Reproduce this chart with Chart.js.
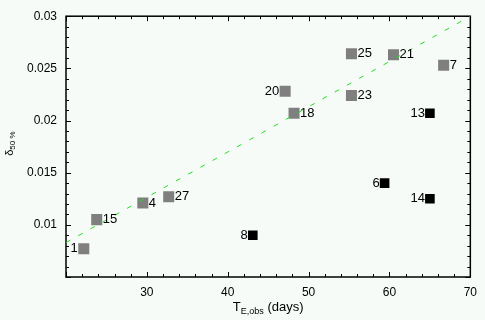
<!DOCTYPE html>
<html>
<head>
<meta charset="utf-8">
<script src="https://cdn.jsdelivr.net/npm/chart.js@4"></script>
<style>
  html, body { margin:0; padding:0; background:#f6fbf7; }
  #wrap { width:485px; height:320px; }
</style>
</head>
<body>
<div id="wrap"><canvas id="myChart" width="485" height="320"></canvas></div>
<script>
// grey points (label, T_E,obs, delta50%)
const greyLabels = ['1','15','4','27','20','18','23','25','21','7'];
const greyX = [22.2, 23.8, 29.5, 32.7, 47.1, 48.2, 55.3, 55.3, 60.5, 66.7];
const greyY = [0.0077, 0.0105, 0.0121, 0.0127, 0.0228, 0.0207, 0.0224, 0.0264, 0.0263, 0.0253];
const greySide = ['L','R','R','R','L','R','R','R','R','R'];

// black points
const blackLabels = ['8','6','14','13'];
const blackX = [43.1, 59.4, 65.0, 65.0];
const blackY = [0.0090, 0.0140, 0.0125, 0.0207];

// fitted line
const fitX = [20, 70];
const fitY = [0.0083, 0.030];

const xTicks = [30, 40, 50, 60, 70];
const yTicks = [0.01, 0.015, 0.02, 0.025, 0.03];

const FONT = '"Liberation Sans", Arial, sans-serif';

function pts(xs, ys){ return xs.map((x,i)=>({x:x, y:ys[i]})); }

const decor = {
  id:'decor',
  beforeDatasetsDraw(chart){
    const ctx = chart.ctx, a = chart.chartArea;
    const xs = chart.scales.x, ys = chart.scales.y;
    ctx.save();
    ctx.strokeStyle = '#000';
    ctx.lineWidth = 1.5;
    ctx.strokeRect(a.left, a.top, a.right-a.left, a.bottom-a.top);
    ctx.lineWidth = 1;
    ctx.beginPath();
    for (let v = 20; v <= 70.001; v += 2) {
      const px = Math.round(xs.getPixelForValue(v)) + 0.5;
      const len = (Math.abs(v % 10) < 0.01) ? 5 : 3;
      ctx.moveTo(px, a.bottom); ctx.lineTo(px, a.bottom - len);
      ctx.moveTo(px, a.top); ctx.lineTo(px, a.top + len);
    }
    for (let k = 5; k <= 30; k++) {
      const py = Math.round(ys.getPixelForValue(k/1000)) + 0.5;
      const len = (k % 5 === 0) ? 5 : 3;
      ctx.moveTo(a.left, py); ctx.lineTo(a.left + len, py);
      ctx.moveTo(a.right, py); ctx.lineTo(a.right - len, py);
    }
    ctx.stroke();
    ctx.restore();
  },
  afterDatasetsDraw(chart){
    const ctx = chart.ctx;
    const xs = chart.scales.x, ys = chart.scales.y;
    ctx.save();
    ctx.fillStyle = '#000';
    ctx.font = '13px ' + FONT;
    ctx.textBaseline = 'middle';
    greyLabels.forEach((t,i)=>{
      const px = xs.getPixelForValue(greyX[i]), py = ys.getPixelForValue(greyY[i]);
      if (greySide[i] === 'L') { ctx.textAlign='right'; ctx.fillText(t, px-6, py); }
      else { ctx.textAlign='left'; ctx.fillText(t, px+6, py); }
    });
    blackLabels.forEach((t,i)=>{
      const px = xs.getPixelForValue(blackX[i]), py = ys.getPixelForValue(blackY[i]);
      ctx.textAlign='right'; ctx.fillText(t, px-5, py);
    });
    ctx.restore();
  },
  afterDraw(chart){
    const ctx = chart.ctx, a = chart.chartArea;
    ctx.save();
    ctx.fillStyle = '#000';
    ctx.textBaseline = 'alphabetic';
    // x title: T_E,obs (days)
    const cx = (a.left + a.right)/2;
    const parts = [['T','13px '+FONT,0],['E,obs','9px '+FONT,3],[' (days)','13px '+FONT,0]];
    let w = 0;
    parts.forEach(p=>{ ctx.font = p[1]; w += ctx.measureText(p[0]).width; });
    let x = cx - w/2;
    parts.forEach(p=>{ ctx.font = p[1]; ctx.textAlign='left'; ctx.fillText(p[0], x, 311 + p[2]); x += ctx.measureText(p[0]).width; });
    // y title: delta_50 %
    ctx.translate(13, (a.top + a.bottom)/2 - 3);
    ctx.rotate(-Math.PI/2);
    const yp = [['δ','11px '+FONT,0],['50 %','8px '+FONT,2]];
    w = 0;
    yp.forEach(p=>{ ctx.font = p[1]; w += ctx.measureText(p[0]).width; });
    x = -w/2;
    yp.forEach(p=>{ ctx.font = p[1]; ctx.fillText(p[0], x, p[2]); x += ctx.measureText(p[0]).width; });
    ctx.restore();
  }
};

let mychart = document.getElementById('myChart').getContext('2d');
let chart = new Chart(mychart, {
  type: 'scatter',
  data: {
    datasets: [{
      type: 'line',
      label: 'fit',
      data: pts(fitX, fitY),
      borderColor: '#22dd22',
      borderWidth: 1,
      borderDash: [5, 9],
      pointRadius: 0,
      fill: false
    }, {
      label: 'grey',
      data: pts(greyX, greyY),
      pointStyle: 'rect',
      pointRadius: 7.8,
      pointBorderWidth: 0,
      backgroundColor: '#7f7f7f',
      borderColor: '#7f7f7f'
    }, {
      label: 'black',
      data: pts(blackX, blackY),
      pointStyle: 'rect',
      pointRadius: 6.8,
      pointBorderWidth: 0,
      backgroundColor: '#000',
      borderColor: '#000'
    }]
  },
  options: {
    responsive: false,
    animation: false,
    layout: { padding: { top: 7, right: 13, left: 0, bottom: 0 } },
    plugins: { legend: { display: false }, tooltip: { enabled: false } },
    scales: {
      x: {
        type: 'linear', min: 20, max: 70,
        grid: { display: false, drawTicks: false },
        border: { display: false },
        afterFit: s => { s.height = 43; },
        afterBuildTicks: s => { s.ticks = [20].concat(xTicks).map(v=>({value:v})); },
        ticks: {
          padding: 8, color: '#000', font: { family: FONT, size: 12 },
          callback: v => xTicks.includes(v) ? String(v) : ''
        }
      },
      y: {
        type: 'linear', min: 0.005, max: 0.03,
        grid: { display: false, drawTicks: false },
        border: { display: false },
        afterFit: s => { s.width = 66; },
        afterBuildTicks: s => { s.ticks = [0.005].concat(yTicks).map(v=>({value:v})); },
        ticks: {
          padding: 9, color: '#000', font: { family: FONT, size: 12 },
          callback: v => { const t = yTicks.find(q => Math.abs(q - v) < 1e-9); return t ? String(t) : ''; }
        }
      }
    }
  },
  plugins: [decor]
});
</script>
</body>
</html>
